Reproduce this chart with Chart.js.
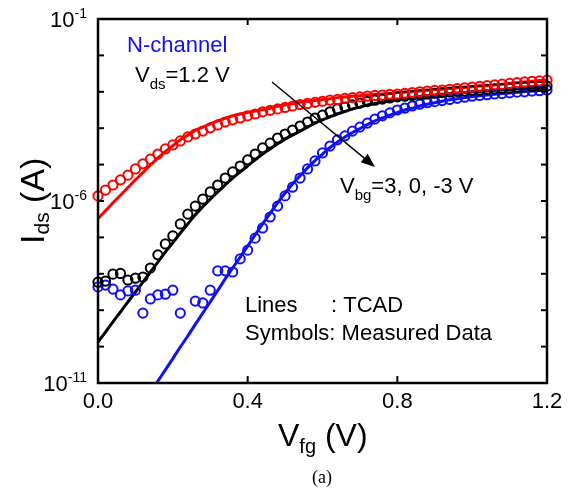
<!DOCTYPE html>
<html>
<head>
<meta charset="utf-8">
<script src="https://cdn.jsdelivr.net/npm/chart.js@4.4.1/dist/chart.umd.min.js"></script>
<style>
    html, body { margin: 0; padding: 0; background: #fff; }
    #wrap { width: 575px; height: 491px; }
</style>
</head>
<body>
<div id="wrap"><canvas id="idsChart" width="575" height="491"></canvas></div>
<script>
// front-gate sweep, V (same grid for measured and TCAD)
const vfg = [
    0.00, 0.02, 0.04, 0.06, 0.08, 0.10, 0.12, 0.14, 0.16, 0.18,
    0.20, 0.22, 0.24, 0.26, 0.28, 0.30, 0.32, 0.34, 0.36, 0.38,
    0.40, 0.42, 0.44, 0.46, 0.48, 0.50, 0.52, 0.54, 0.56, 0.58,
    0.60, 0.62, 0.64, 0.66, 0.68, 0.70, 0.72, 0.74, 0.76, 0.78,
    0.80, 0.82, 0.84, 0.86, 0.88, 0.90, 0.92, 0.94, 0.96, 0.98,
    1.00, 1.02, 1.04, 1.06, 1.08, 1.10, 1.12, 1.14, 1.16, 1.18,
    1.20
];

// log10(Ids / A), Vbg = 3 V
const measVbgP3 = [
    -5.86, -5.70, -5.56, -5.42, -5.29, -5.12, -4.98, -4.85, -4.71, -4.57,
    -4.46, -4.35, -4.24, -4.16, -4.08, -3.99, -3.91, -3.83, -3.77, -3.72,
    -3.66, -3.61, -3.55, -3.51, -3.47, -3.43, -3.39, -3.35, -3.32, -3.29,
    -3.26, -3.23, -3.21, -3.18, -3.16, -3.14, -3.12, -3.10, -3.09, -3.07,
    -3.06, -3.04, -3.02, -3.00, -2.98, -2.96, -2.95, -2.93, -2.91, -2.89,
    -2.87, -2.85, -2.83, -2.81, -2.79, -2.77, -2.75, -2.73, -2.71, -2.70,
    -2.68
];
const tcadVbgP3 = [
    -6.49, -6.27, -6.05, -5.84, -5.63, -5.42, -5.22, -5.01, -4.82, -4.64,
    -4.48, -4.32, -4.19, -4.06, -3.97, -3.88, -3.80, -3.73, -3.66, -3.61,
    -3.57, -3.53, -3.49, -3.45, -3.40, -3.36, -3.33, -3.29, -3.26, -3.24,
    -3.21, -3.19, -3.16, -3.14, -3.12, -3.11, -3.09, -3.07, -3.06, -3.04,
    -3.02, -3.01, -2.99, -2.98, -2.96, -2.94, -2.93, -2.91, -2.89, -2.88,
    -2.86, -2.84, -2.83, -2.81, -2.79, -2.77, -2.75, -2.73, -2.71, -2.69,
    -2.68
];

// Vbg = 0 V
const measVbg0 = [
    -8.23, -8.20, -8.01, -7.99, -8.17, -8.12, -8.09, -7.84, -7.48, -7.18,
    -6.96, -6.63, -6.36, -6.14, -5.95, -5.75, -5.56, -5.37, -5.20, -5.04,
    -4.87, -4.71, -4.54, -4.41, -4.27, -4.16, -4.05, -3.94, -3.83, -3.72,
    -3.64, -3.55, -3.47, -3.42, -3.36, -3.31, -3.27, -3.23, -3.20, -3.17,
    -3.14, -3.12, -3.10, -3.08, -3.06, -3.04, -3.02, -3.01, -2.99, -2.98,
    -2.96, -2.95, -2.93, -2.92, -2.91, -2.90, -2.88, -2.87, -2.86, -2.85,
    -2.84
];
const tcadVbg0 = [
    -9.87, -9.60, -9.32, -9.05, -8.77, -8.50, -8.23, -7.95, -7.68, -7.40,
    -7.15, -6.88, -6.63, -6.38, -6.16, -5.95, -5.75, -5.56, -5.37, -5.20,
    -5.04, -4.87, -4.71, -4.57, -4.43, -4.30, -4.19, -4.08, -3.97, -3.86,
    -3.77, -3.69, -3.61, -3.54, -3.47, -3.42, -3.36, -3.32, -3.28, -3.24,
    -3.21, -3.18, -3.16, -3.13, -3.11, -3.09, -3.07, -3.05, -3.03, -3.02,
    -3.00, -2.99, -2.97, -2.96, -2.95, -2.94, -2.92, -2.91, -2.90, -2.89,
    -2.88
];

// Vbg = -3 V (null = no point)
const measVbgM3 = [
    -8.36, -8.31, -8.42, -8.58, -8.47, -8.45, -9.08, -8.69, -8.58, -8.56,
    -8.45, -9.08, null, -8.75, -8.80, -8.45, -7.92, -7.92, -7.95, -7.59,
    -7.35, -7.02, -6.74, -6.44, -6.14, -5.86, -5.62, -5.37, -5.12, -4.90,
    -4.68, -4.49, -4.32, -4.21, -4.08, -3.97, -3.86, -3.75, -3.66, -3.58,
    -3.50, -3.45, -3.39, -3.34, -3.30, -3.27, -3.24, -3.21, -3.18, -3.15,
    -3.12, -3.10, -3.08, -3.06, -3.05, -3.03, -3.01, -3.00, -2.98, -2.97,
    -2.95
];
const tcadVbgM3 = [
    null, null, null, null, null, null, null, -11.26, -10.95, -10.64,
    -10.33, -10.01, -9.71, -9.39, -9.08, -8.77, -8.46, -8.14, -7.84, -7.54,
    -7.24, -6.93, -6.63, -6.34, -6.05, -5.78, -5.53, -5.31, -5.09, -4.89,
    -4.71, -4.53, -4.38, -4.24, -4.12, -4.01, -3.90, -3.80, -3.72, -3.64,
    -3.57, -3.50, -3.45, -3.39, -3.34, -3.30, -3.26, -3.22, -3.19, -3.16,
    -3.13, -3.11, -3.09, -3.07, -3.05, -3.03, -3.01, -2.99, -2.98, -2.96,
    -2.95
];

// axis ticks
const xTickValues = [0, 0.4, 0.8, 1.2];
const xTickLabels = ["0.0", "0.4", "0.8", "1.2"];
const yDecades = [-1, -2, -3, -4, -5, -6, -7, -8, -9, -10, -11];
const yLabelDecades = [-1, -6, -11];

const FONT = "'Liberation Sans', Arial, sans-serif";
const RED = "#ff0000";
const BLACK = "#000000";
const BLUE = "#1010f5";

function toPoints(logs) {
    return vfg.map((v, i) => ({ x: v, y: logs[i] === null ? null : Math.pow(10, logs[i]) }));
}

function tcadLine(logs, color) {
    return {
        data: toPoints(logs),
        borderColor: color,
        borderWidth: 3,
        pointRadius: 0,
        fill: false,
        cubicInterpolationMode: "monotone",
    };
}

function symbols(logs, color) {
    return {
        data: toPoints(logs),
        showLine: false,
        pointStyle: "circle",
        pointRadius: 4.6,
        pointBorderWidth: 2,
        pointBorderColor: color,
        pointBackgroundColor: "rgba(0,0,0,0)",
        clip: 8,
    };
}

// text with sub/superscript pieces, returns end x
function richText(ctx, x, y, parts) {
    let cx = x;
    parts.forEach((p) => {
        ctx.font = p.size + "px " + FONT;
        ctx.fillText(p.t, cx, y + (p.dy || 0));
        cx += ctx.measureText(p.t).width;
    });
    return cx;
}

function richWidth(ctx, parts) {
    let w = 0;
    parts.forEach((p) => {
        ctx.font = p.size + "px " + FONT;
        w += ctx.measureText(p.t).width;
    });
    return w;
}

function seg(ctx, x1, y1, x2, y2) {
    ctx.beginPath();
    ctx.moveTo(x1, y1);
    ctx.lineTo(x2, y2);
    ctx.stroke();
}

const frameAndText = {
    id: "frameAndText",
    afterDatasetsDraw(chart) {
        const ctx = chart.ctx;
        const a = chart.chartArea;
        const xs = chart.scales.x;
        const ys = chart.scales.y;
        ctx.save();
        ctx.strokeStyle = BLACK;
        ctx.fillStyle = BLACK;

        // frame
        ctx.lineWidth = 2.5;
        ctx.strokeRect(a.left, a.top, a.right - a.left, a.bottom - a.top);

        // inward ticks
        ctx.lineWidth = 2;
        yDecades.forEach((d) => {
            const py = ys.getPixelForValue(Math.pow(10, d));
            seg(ctx, a.left, py, a.left + 6, py);
            seg(ctx, a.right, py, a.right - 6, py);
        });
        xTickValues.forEach((v) => {
            const px = xs.getPixelForValue(v);
            seg(ctx, px, a.bottom, px, a.bottom - 7);
            seg(ctx, px, a.top, px, a.top + 6);
        });

        // tick labels
        ctx.textBaseline = "alphabetic";
        ctx.textAlign = "left";
        xTickValues.forEach((v, i) => {
            ctx.font = "22px " + FONT;
            const w = ctx.measureText(xTickLabels[i]).width;
            ctx.fillText(xTickLabels[i], xs.getPixelForValue(v) - w / 2, a.bottom + 25);
        });
        yLabelDecades.forEach((d) => {
            const py = ys.getPixelForValue(Math.pow(10, d));
            const parts = [{ t: "10", size: 22 }, { t: String(d), size: 14, dy: -9 }];
            richText(ctx, a.left - 11 - richWidth(ctx, parts), py + 8, parts);
        });

        // axis titles
        richText(ctx, 278, 446, [
            { t: "V", size: 32 },
            { t: "fg", size: 20, dy: 7 },
            { t: " (V)", size: 32 },
        ]);
        ctx.save();
        ctx.translate(44, 244);
        ctx.rotate(-Math.PI / 2);
        richText(ctx, 0, 0, [
            { t: "I", size: 34 },
            { t: "ds", size: 21, dy: 5 },
            { t: " (A)", size: 34 },
        ]);
        ctx.restore();

        // annotations
        ctx.fillStyle = BLUE;
        richText(ctx, 127, 52, [{ t: "N-channel", size: 22 }]);
        ctx.fillStyle = BLACK;
        richText(ctx, 135, 82, [
            { t: "V", size: 22 },
            { t: "ds", size: 15, dy: 7 },
            { t: "=1.2 V", size: 22 },
        ]);
        richText(ctx, 340, 193, [
            { t: "V", size: 22 },
            { t: "bg", size: 15, dy: 7 },
            { t: "=3, 0, -3 V", size: 22 },
        ]);
        richText(ctx, 245, 312, [{ t: "Lines", size: 22 }]);
        richText(ctx, 331, 312, [{ t: ": TCAD", size: 22 }]);
        richText(ctx, 245, 340, [{ t: "Symbols: Measured Data", size: 22 }]);

        // Vbg arrow
        const x0 = 272, y0 = 82, x1 = 375, y1 = 167;
        const ang = Math.atan2(y1 - y0, x1 - x0);
        ctx.lineWidth = 1.4;
        seg(ctx, x0, y0, x1 - 10 * Math.cos(ang), y1 - 10 * Math.sin(ang));
        ctx.beginPath();
        ctx.moveTo(x1, y1);
        ctx.lineTo(x1 - 14 * Math.cos(ang) + 5.5 * Math.sin(ang), y1 - 14 * Math.sin(ang) - 5.5 * Math.cos(ang));
        ctx.lineTo(x1 - 14 * Math.cos(ang) - 5.5 * Math.sin(ang), y1 - 14 * Math.sin(ang) + 5.5 * Math.cos(ang));
        ctx.closePath();
        ctx.fill();

        // panel caption
        ctx.font = "18px 'Liberation Serif', 'Times New Roman', serif";
        ctx.textAlign = "center";
        ctx.fillText("(a)", 322, 483);
        ctx.restore();
    },
};

new Chart(document.getElementById("idsChart"), {
    type: "line",
    data: {
        datasets: [
            symbols(measVbgP3, RED),
            symbols(measVbg0, BLACK),
            symbols(measVbgM3, BLUE),
            tcadLine(tcadVbgP3, RED),
            tcadLine(tcadVbg0, BLACK),
            tcadLine(tcadVbgM3, BLUE),
        ],
    },
    options: {
        responsive: false,
        animation: false,
        layout: { padding: { left: 98, top: 19, right: 28, bottom: 108 } },
        plugins: { legend: { display: false }, tooltip: { enabled: false } },
        scales: {
            x: { type: "linear", min: 0, max: 1.2, display: false },
            y: { type: "logarithmic", min: 1e-11, max: 1e-1, display: false },
        },
    },
    plugins: [frameAndText],
});
</script>
</body>
</html>
